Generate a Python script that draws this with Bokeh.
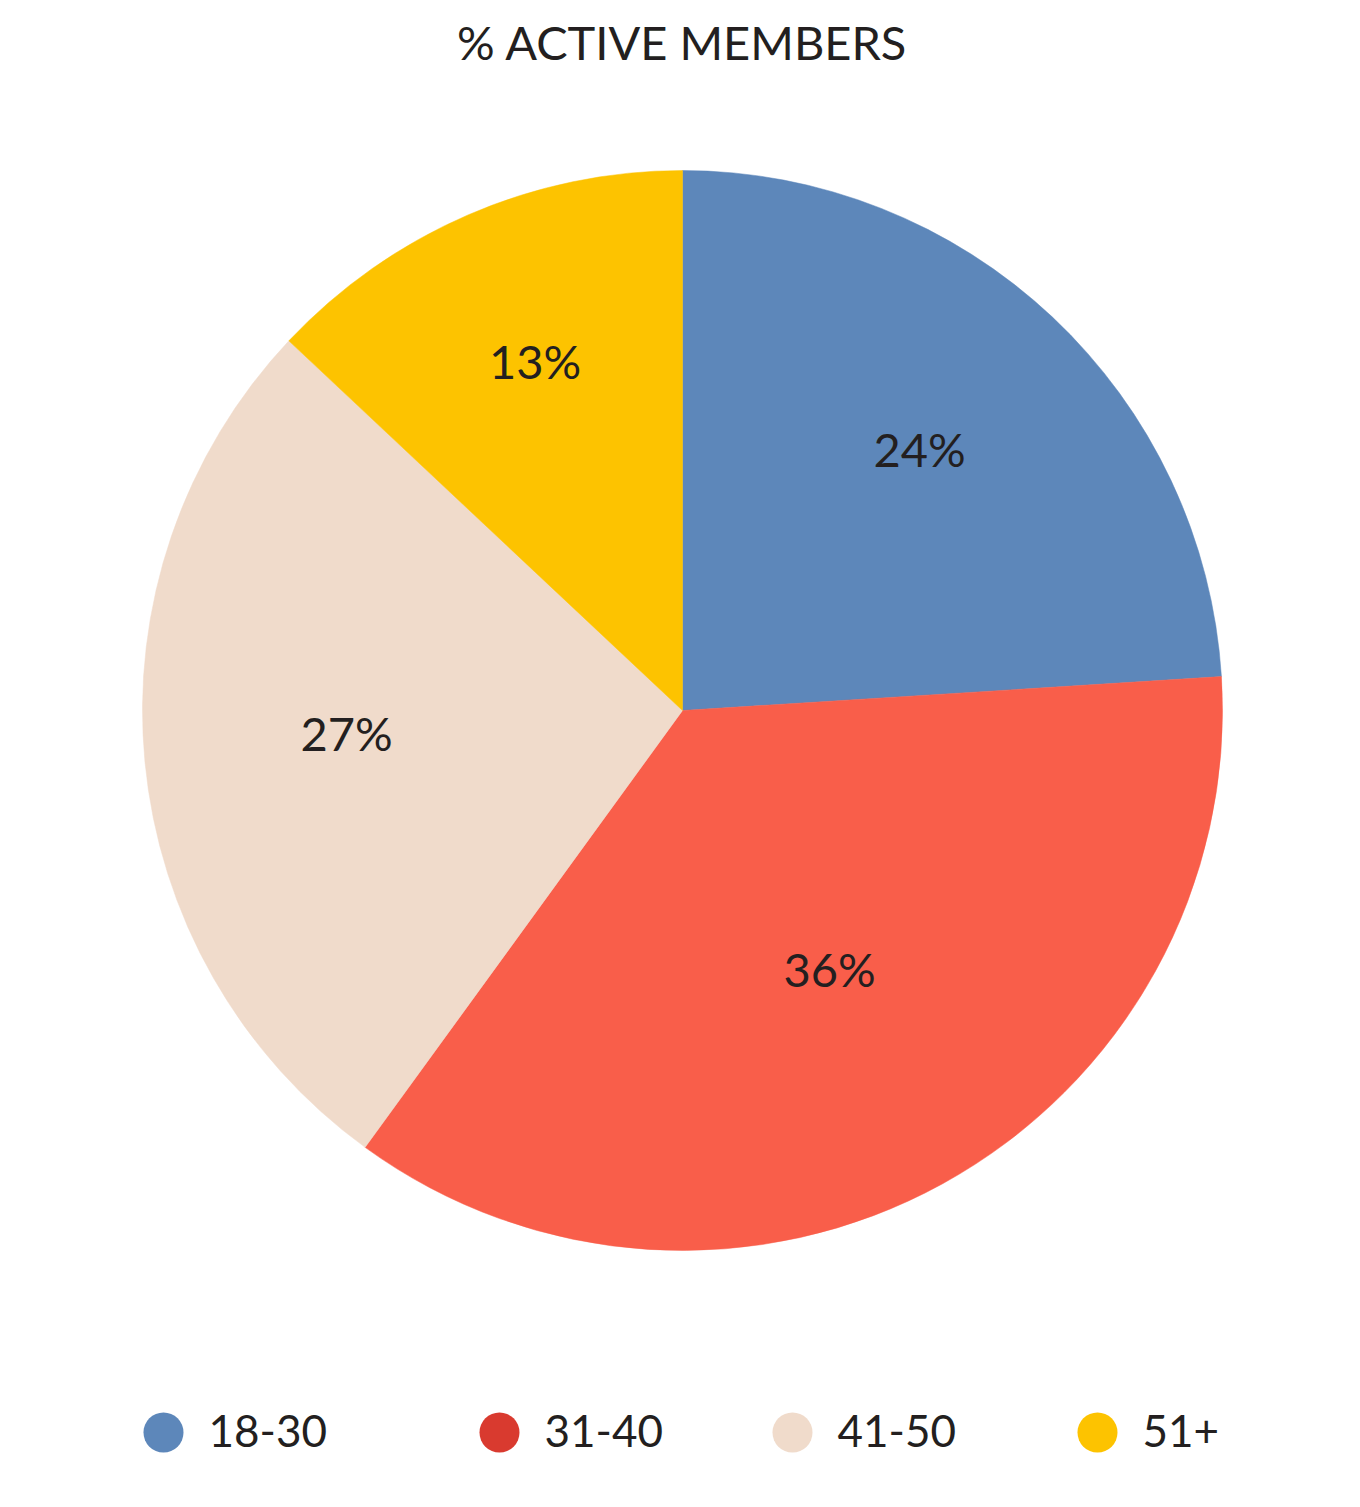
import numpy as np
from bokeh.plotting import figure
from bokeh.models import ColumnDataSource, Range1d
from bokeh.core.properties import value
from bokeh.embed import file_html
from bokeh.resources import INLINE

# ---- data ----
categories = ["18-30", "31-40", "41-50", "51+"]
shares = [24, 36, 27, 13]
slice_colors = ["#5D87BA", "#F95E4A", "#F0DBCB", "#FDC300"]
legend_colors = ["#5D87BA", "#D93A2F", "#F0DBCB", "#FDC300"]
title_text = "% ACTIVE MEMBERS"

# ---- layout (page pixel coordinates, y negated) ----
W, H = 1344, 1491
CX, CY, R = 682, -710, 540
TEXT = "#231F20"
FONT = "Lato"
legend_x = [163, 499, 792, 1097]
legend_y = -1432

p = figure(width=W, height=H, output_backend="svg", toolbar_location=None,
           x_range=Range1d(0, W), y_range=Range1d(-H, 0),
           min_border=0)
p.axis.visible = False
p.grid.visible = False
p.outline_line_color = None
p.background_fill_color = "white"
p.border_fill_color = "white"

vals = np.array(shares, dtype=float)
frac = vals / vals.sum()
cum = np.concatenate([[0], np.cumsum(frac)])
start = np.pi / 2 - cum[:-1] * 2 * np.pi
end = np.pi / 2 - cum[1:] * 2 * np.pi
mid = (start + end) / 2
theta = frac * 2 * np.pi
rlab = 1.06 * 2 * R * np.sin(theta / 2) / (1.5 * theta)

src = ColumnDataSource(dict(
    cat=categories, start=start, end=end, color=slice_colors,
    x=[CX] * len(categories), y=[CY] * len(categories),
    lx=CX + rlab * np.cos(mid), ly=CY + rlab * np.sin(mid),
    lab=[f"{v}%" for v in shares],
))

p.wedge(x="x", y="y", radius=R, start_angle="start", end_angle="end",
        direction="clock", fill_color="color", line_color="color",
        line_width=0.5, source=src)

p.text(x="lx", y="ly", text="lab", source=src, text_align="center",
       text_baseline="middle", y_offset=-9, text_font=value(FONT),
       text_font_size="47px", text_color=TEXT)

# title
p.text(x=[CX], y=[-43], text=[title_text], text_align="center",
       text_baseline="middle", y_offset=-2, text_font=value(FONT),
       text_font_size="47px", text_color=TEXT)

# legend
lsrc = ColumnDataSource(dict(x=legend_x, y=[legend_y] * 4, color=legend_colors,
                             tx=[x + 45 for x in legend_x], cat=categories))
p.scatter(x="x", y="y", size=40, marker="circle", fill_color="color",
          line_color=None, source=lsrc)
p.text(x="tx", y="y", text="cat", source=lsrc, text_align="left",
       text_baseline="middle", y_offset=-2, text_font=value(FONT),
       text_font_size="44px", text_color=TEXT)

open("out.html", "w").write(file_html(p, INLINE))
